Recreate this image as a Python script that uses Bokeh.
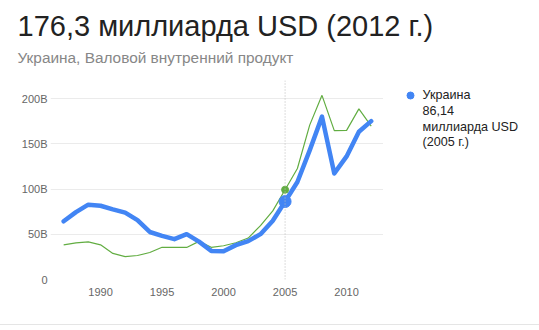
from bokeh.plotting import figure
from bokeh.models import Range1d, FixedTicker, Span, Div, Label
from bokeh.layouts import column, row
from bokeh.embed import file_html
from bokeh.resources import INLINE

years = list(range(1987, 2013))
ukraine = [64.3, 74.5, 82.7, 81.5, 77.5, 73.9, 65.6, 52.5, 48.2, 44.6, 50.1, 41.9,
           31.6, 31.3, 38.0, 42.4, 50.1, 64.9, 86.14, 107.8, 142.7, 179.99, 117.2,
           136.0, 163.2, 175.0]
romania = [38.3, 40.5, 41.5, 38.3, 28.8, 25.3, 26.5, 29.8, 35.6, 35.5, 35.4, 42.1,
           35.6, 37.3, 40.6, 45.8, 59.5, 75.8, 99.2, 122.7, 170.6, 203.5, 164.5,
           164.8, 188.5, 169.4]
y_ticks = [0, 50, 100, 150, 200]
y_tick_labels = ["0", "50B", "100B", "150B", "200B"]
x_ticks = [1990, 1995, 2000, 2005, 2010]
hover_year = 2005
hover_idx = years.index(hover_year)

title_text = "176,3 миллиарда USD (2012 г.)"
subtitle_text = "Украина, Валовой внутренний продукт"
legend_lines = ["Украина", "86,14", "миллиарда USD", "(2005 г.)"]

FONT = "Arial, Liberation Sans, sans-serif"
BLUE = "#4285f4"
GREEN = "#62ad42"


def blank_fig(w, h, xr, yr, bottom=0):
    f = figure(width=w, height=h, output_backend="svg", toolbar_location=None,
               x_range=Range1d(*xr), y_range=Range1d(*yr),
               x_axis_location=None, y_axis_location=None,
               min_border=0, min_border_bottom=bottom, title=None)
    f.outline_line_color = None
    f.grid.visible = False
    f.background_fill_color = "white"
    f.border_fill_color = "white"
    return f


def lab(f, text, x, base, size, color):
    # Label's alphabetic anchor sits ~0.41em above the drawn baseline here
    f.add_layout(Label(x=x, y=base - 0.41 * size, text=text, text_font=FONT,
                       text_font_size=f"{size}px", text_color=color,
                       text_baseline="alphabetic", text_align="left"))


# --- header (page pixels 0..539 x 0..80)
head = blank_fig(539, 80, (0, 539), (80, 0))
lab(head, title_text, 17, 37.5, 29, "#222222")
lab(head, subtitle_text, 17, 63.5, 15.4, "#878787")

# --- main chart
p = figure(width=383, height=244, output_backend="svg", toolbar_location=None,
           x_range=Range1d(1985.93, 2013.0), y_range=Range1d(0, 219.9),
           min_border_left=50, min_border_right=0, min_border_top=0,
           min_border_bottom=45, title=None)
p.outline_line_color = None
p.background_fill_color = "white"
p.border_fill_color = "white"

p.yaxis.ticker = FixedTicker(ticks=y_ticks)
p.yaxis.major_label_overrides = {t: l for t, l in zip(y_ticks, y_tick_labels)}
p.xaxis.ticker = FixedTicker(ticks=x_ticks)
for ax in (p.xaxis[0], p.yaxis[0]):
    ax.axis_line_color = None
    ax.major_tick_line_color = None
    ax.minor_tick_line_color = None
    ax.major_tick_out = 0
    ax.major_tick_in = 0
    ax.major_label_text_font = FONT
    ax.major_label_text_font_size = "11px"
    ax.major_label_text_color = "#666666"
p.yaxis.major_label_standoff = 3
p.xaxis.major_label_standoff = 8
p.xgrid.grid_line_color = None
p.ygrid.grid_line_color = "#ebebeb"
p.ygrid.grid_line_width = 1

p.add_layout(Span(location=hover_year, dimension="height", line_color="#bbbbbb",
                  line_dash="1 2", line_width=1))

p.line(years, romania, line_color=GREEN, line_width=1.2)
p.line(years, ukraine, line_color=BLUE, line_width=4.5, line_join="round", line_cap="round")
p.scatter([years[hover_idx]], [romania[hover_idx]], size=7, color=GREEN)
p.scatter([years[hover_idx]], [ukraine[hover_idx]], size=12, color=BLUE)

# --- legend / tooltip panel: frame = page pixels 383..539 x 80..279
leg = blank_fig(156, 244, (383, 539), (279, 80), bottom=45)
leg.scatter([410], [95], size=7, color=BLUE)
for i, t in enumerate(legend_lines):
    lab(leg, t, 422, 100 + i * 15.6, 12.6, "#222222")

sep = Div(width=539, height=1, margin=0, styles={"background-color": "#e5e5e5"})
layout = column(head, row(p, leg, spacing=0), sep, spacing=0)

open("out.html", "w").write(file_html(layout, INLINE))
